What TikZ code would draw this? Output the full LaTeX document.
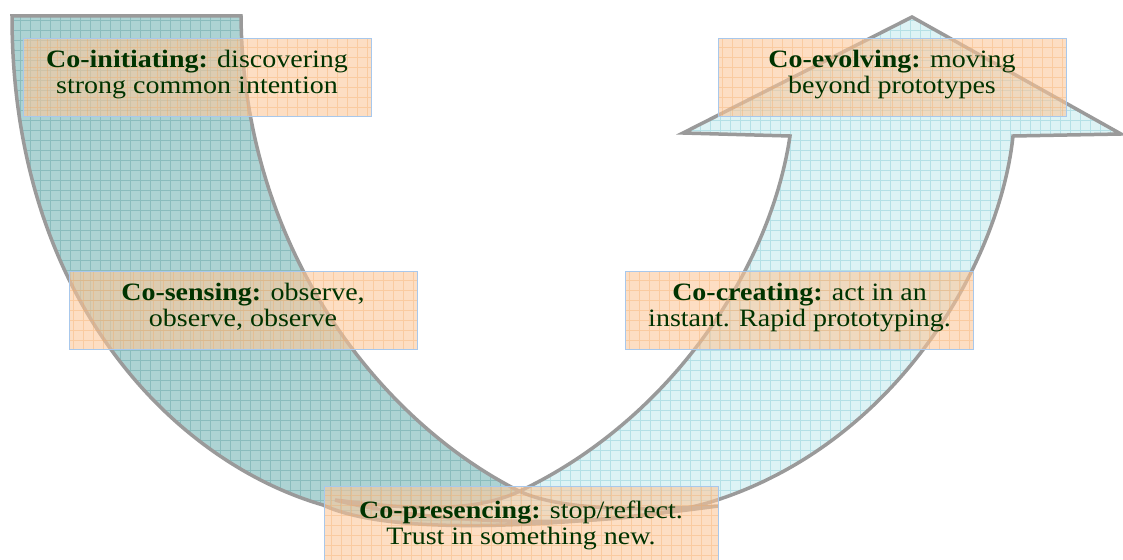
\documentclass[tikz,border=0pt]{standalone}
\usepackage{fontspec}
\setmainfont{Liberation Serif}
\newfontfamily\boxfont{Liberation Serif}[FakeStretch=1.12]
\definecolor{outlinegray}{HTML}{9A9A9A}
\definecolor{bandLfill}{HTML}{ADD3D3}
\definecolor{bandLgrid}{HTML}{8ABCBD}
\definecolor{bandRfill}{HTML}{DDF3F5}
\definecolor{bandRgrid}{HTML}{B4E0E6}
\definecolor{boxfill}{HTML}{FCC89B}
\definecolor{boxgrid}{HTML}{F5A860}
\definecolor{boxborder}{HTML}{A8C8EC}
\definecolor{textgreen}{HTML}{003300}
\begin{document}
\begin{tikzpicture}[x=1pt,y=-1pt,
  outline/.style={draw=outlinegray, line width=3.5pt, line join=miter},
  bandL/.style={fill=bandLfill, path picture={\draw[bandLgrid, line width=0.8pt, step=10pt] (path picture bounding box.south west) grid (path picture bounding box.north east);}},
  bandR/.style={fill=bandRfill, path picture={\draw[bandRgrid, line width=0.8pt, step=10pt] (path picture bounding box.south west) grid (path picture bounding box.north east);}},
  box/.style={draw=boxborder, line width=0.8pt, fill=boxfill, fill opacity=0.6, minimum width=348pt, minimum height=78pt, inner sep=0pt,
    path picture={\draw[boxgrid, draw opacity=0.35, line width=0.8pt, step=10pt] (path picture bounding box.south west) grid (path picture bounding box.north east);}},
  boxtext/.style={align=center, inner sep=0pt, text=textgreen, font=\boxfont\fontsize{25}{26.5}\selectfont}
]
\useasboundingbox (0,0) rectangle (1123,559);
\fill[white] (0,0) rectangle (1123,559);

% left band (crescent-like arc)
\def\leftband{(12,16) -- (241,16) .. controls (243,250) and (380,420) .. (517,490) .. controls (560,512) and (650,510) .. (718,506) .. controls (600,522) and (400,541) .. (323,505) .. controls (175,462) and (12,300) .. (12,16) -- cycle}
% right band (curved up arrow)
\def\rightband{(790,136) -- (683,133) -- (912,17) -- (1121,134) -- (1013,136) .. controls (1000,260) and (900,440) .. (717,500) .. controls (620,532) and (430,525) .. (335,500) .. controls (400,508) and (470,515) .. (520,491) .. controls (670,420) and (770,270) .. (790,136) -- cycle}

\path[bandL] \leftband;
\path[bandR] \rightband;
\path[outline] \leftband;
\path[outline] \rightband;

% boxes
\node[box] (b1) at (197,77) {};
\node[box] (b2) at (892,77) {};
\node[box] (b3) at (243,310.5) {};
\node[box] (b4) at (799.5,310.5) {};
\node[box, minimum width=394pt] (b5) at (521,525) {};

\node[boxtext] (t1) at (197,75) {\strut\textbf{Co-initiating:} discovering\\\strut strong common intention};
\node[boxtext] (t2) at (892,75) {\strut\textbf{Co-evolving:} moving\\\strut beyond prototypes};
\node[boxtext] (t3) at (243,308) {\strut\textbf{Co-sensing:} observe,\\\strut observe, observe};
\node[boxtext] (t4) at (799.5,308) {\strut\textbf{Co-creating:} act in an\\\strut instant. Rapid prototyping.};
\node[boxtext] (t5) at (521,526) {\strut\textbf{Co-presencing:} stop/reflect.\\\strut Trust in something new.};
\end{tikzpicture}
\end{document}
